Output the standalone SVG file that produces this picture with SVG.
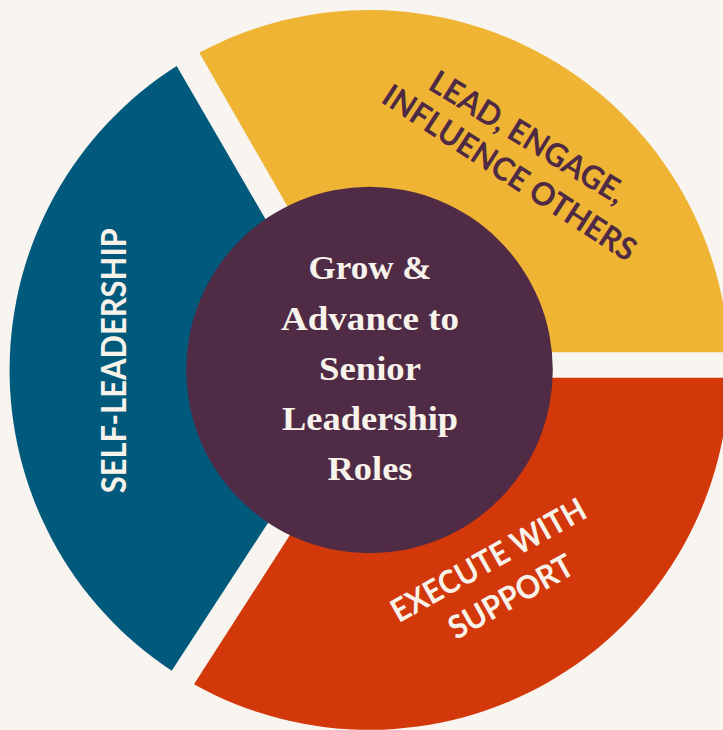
<svg xmlns="http://www.w3.org/2000/svg" width="723" height="730" viewBox="0 0 723 730">
  <style>
    .seg-label { font-family: Lato, "Liberation Sans", sans-serif; font-weight: 700; text-anchor: middle; }
    .light { fill: #F8F3EA; }
    .dark { fill: #4E2A45; }
    .center-text { font-family: "Liberation Serif", serif; font-weight: 700; font-size: 34px; fill: #F8F3EA; text-anchor: middle; }
  </style>
  <rect x="0" y="0" width="723" height="730" fill="#F8F5F0"/>

  <g id="self-leadership">
    <path d="M176.7,66 A360,360 0 0 0 171.7,670.7 L267.3,524 L321.9,440.2 L315,304.9 L265,218.3 Z" fill="#015A7C"/>
    <text class="seg-label light" font-size="34" textLength="265" lengthAdjust="spacingAndGlyphs" transform="translate(126,360.8) rotate(-90)">SELF-LEADERSHIP</text>
  </g>

  <g id="lead-engage">
    <path d="M199.3,52.7 A360,360 0 0 1 728.9,352.3 L450,352.3 L336.7,291.6 L286.7,205 Z" fill="#EFB434"/>
    <text class="seg-label dark" font-size="32" textLength="223" lengthAdjust="spacingAndGlyphs" transform="translate(521.9,146.8) rotate(31.5)">LEAD, ENGAGE,</text>
    <text class="seg-label dark" font-size="32" textLength="295" lengthAdjust="spacingAndGlyphs" transform="translate(503.5,182) rotate(33)">INFLUENCE OTHERS</text>
  </g>

  <g id="execute-support">
    <path d="M729.2,377.7 A360,360 0 0 1 194,684.3 L289.3,536 L343.4,451.9 L450,377.7 Z" fill="#D2380A"/>
    <text class="seg-label light" font-size="32" textLength="218" lengthAdjust="spacingAndGlyphs" transform="translate(493.8,569.9) rotate(-29.3)">EXECUTE WITH</text>
    <text class="seg-label light" font-size="32" textLength="138" lengthAdjust="spacingAndGlyphs" transform="translate(516.4,606.5) rotate(-29.4)">SUPPORT</text>
  </g>

  <g id="center">
    <circle cx="369.5" cy="370" r="183.3" fill="#502B46"/>
    <text class="center-text" x="370" y="279.3" textLength="123" lengthAdjust="spacingAndGlyphs">Grow &amp;</text>
    <text class="center-text" x="370" y="330" textLength="178" lengthAdjust="spacingAndGlyphs">Advance to</text>
    <text class="center-text" x="370" y="380" textLength="102" lengthAdjust="spacingAndGlyphs">Senior</text>
    <text class="center-text" x="370" y="430" textLength="176" lengthAdjust="spacingAndGlyphs">Leadership</text>
    <text class="center-text" x="370" y="480" textLength="85" lengthAdjust="spacingAndGlyphs">Roles</text>
  </g>
</svg>
